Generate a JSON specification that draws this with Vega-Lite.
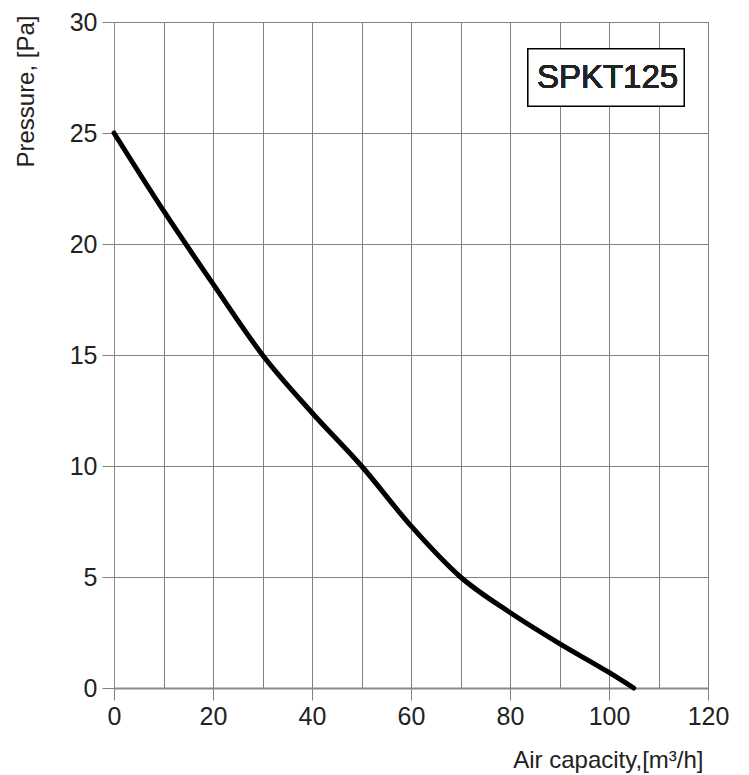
{
  "$schema": "https://vega.github.io/schema/vega-lite/v6.json",
  "autosize": "none",
  "width": 594,
  "height": 666,
  "padding": {"left": 114, "top": 22, "right": 41, "bottom": 87},
  "background": "white",
  "config": {
    "font": "Liberation Sans",
    "view": {"stroke": "#808080", "strokeWidth": 1},
    "axis": {
      "labelFont": "Liberation Sans",
      "titleFont": "Liberation Sans",
      "labelColor": "#222222",
      "titleColor": "#222222",
      "labelFontSize": 25,
      "titleFontSize": 24,
      "titleFontWeight": "normal",
      "gridColor": "#808080",
      "gridOpacity": 1,
      "gridWidth": 1,
      "domainColor": "#8a8a8a",
      "tickColor": "#808080",
      "tickSize": 12
    }
  },
  "data": {
    "values": [
      {"capacity": 0, "pressure": 25},
      {"capacity": 10, "pressure": 21.5},
      {"capacity": 20, "pressure": 18.2},
      {"capacity": 30, "pressure": 15.0},
      {"capacity": 40, "pressure": 12.4},
      {"capacity": 50, "pressure": 10.0},
      {"capacity": 60, "pressure": 7.3},
      {"capacity": 70, "pressure": 5.0},
      {"capacity": 80, "pressure": 3.4},
      {"capacity": 90, "pressure": 2.0},
      {"capacity": 100, "pressure": 0.7},
      {"capacity": 105, "pressure": 0}
    ]
  },
  "layer": [
    {
      "mark": {"type": "line", "color": "black", "strokeWidth": 5, "interpolate": "monotone", "strokeCap": "round"},
      "encoding": {
        "x": {
          "field": "capacity",
          "type": "quantitative",
          "scale": {"domain": [0, 120], "nice": false},
          "axis": {
            "values": [0, 10, 20, 30, 40, 50, 60, 70, 80, 90, 100, 110, 120],
            "labelExpr": "datum.value % 20 === 0 ? datum.label : ''",
            "tickOpacity": {"condition": {"test": "datum.value % 20 === 0", "value": 1}, "value": 0},
            "labelPadding": 4,
            "domainWidth": 2,
            "title": "Air capacity,[m³/h]",
            "titleAnchor": "end",
            "titleAlign": "right",
            "titleX": 589,
            "titleY": 79,
            "titleBaseline": "alphabetic",
            "labelFlush": false
          }
        },
        "y": {
          "field": "pressure",
          "type": "quantitative",
          "scale": {"domain": [0, 30], "nice": false},
          "axis": {
            "values": [0, 5, 10, 15, 20, 25, 30],
            "labelPadding": 5,
            "title": "Pressure, [Pa]",
            "titleAngle": -90,
            "titleAlign": "right",
            "titleBaseline": "middle",
            "titleX": -88,
            "titleY": -7,
            "labelFlush": false
          }
        }
      }
    },
    {
      "mark": {"type": "rect", "fill": "white", "stroke": "black", "strokeWidth": 1.5},
      "encoding": {
        "x": {"datum": 83.6, "type": "quantitative"},
        "x2": {"datum": 115.2},
        "y": {"datum": 26.2, "type": "quantitative"},
        "y2": {"datum": 28.8}
      }
    },
    {
      "mark": {"type": "text", "text": "SPKT125", "fontSize": 33, "font": "Liberation Sans", "color": "#222222", "align": "center", "baseline": "middle"},
      "encoding": {
        "x": {"datum": 99.7, "type": "quantitative"},
        "y": {"datum": 27.5, "type": "quantitative"}
      }
    }
  ]
}
